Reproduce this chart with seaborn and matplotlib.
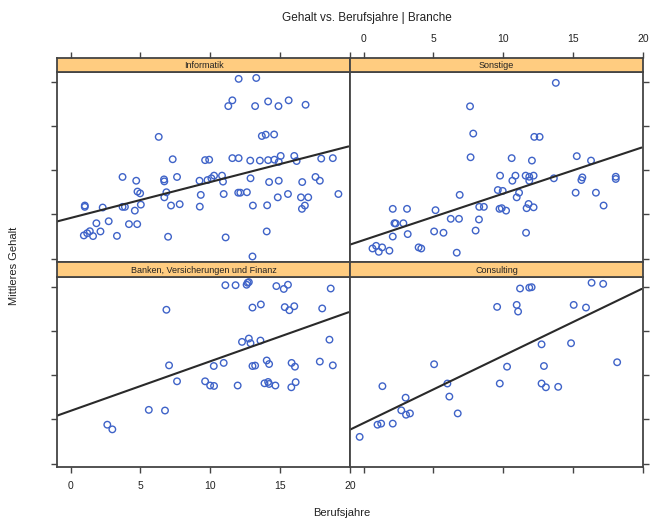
import numpy as np
import matplotlib
matplotlib.use("Agg")
import matplotlib.pyplot as plt
import seaborn as sns

# ---- data (Berufsjahre, Mittleres Gehalt) per Branche ----
inf_x = [12.03, 13.29, 11.58, 11.29, 14.14, 15.61, 13.21, 14.88, 16.82, 6.31, 13.69, 13.97, 14.57,
         7.31, 9.63, 9.92, 11.58, 12.03, 12.86, 13.55, 14.14, 14.59, 15.04, 14.90, 16.01, 16.18, 17.94, 18.77,
         3.72, 4.70, 6.69, 6.71, 7.62, 9.23, 9.80, 10.08, 10.27, 10.84, 10.91, 12.88, 14.21, 14.90, 16.58, 17.53, 17.84,
         4.79, 4.98, 6.86, 6.71, 9.32, 10.96, 12.00, 12.15, 12.62, 14.83, 15.56, 16.49, 17.01, 19.17,
         1.02, 1.02, 2.30, 3.72, 3.89, 5.03, 4.60, 7.19, 7.81, 9.25, 13.05, 14.07, 16.77, 16.56,
         1.85, 2.73, 4.18, 4.77, 0.95, 1.19, 1.38, 1.61, 2.14, 3.32, 6.98, 11.10, 14.04, 13.02]
inf_y = [101.2, 101.6, 91.5, 88.9, 91.0, 91.5, 88.9, 88.9, 89.5, 75.0, 75.4, 76.0, 76.1,
         64.9, 64.5, 64.7, 65.4, 65.4, 64.3, 64.3, 64.5, 64.7, 66.4, 63.7, 66.4, 64.1, 65.2, 65.4,
         56.9, 55.2, 55.8, 54.9, 56.9, 55.2, 55.5, 56.3, 57.5, 57.5, 54.8, 56.3, 54.6, 55.2, 54.6, 56.9, 55.2,
         50.3, 49.5, 50.0, 47.7, 48.8, 49.2, 49.8, 49.8, 50.0, 47.7, 49.2, 47.7, 47.7, 49.2,
         44.0, 43.4, 43.1, 43.4, 43.4, 44.4, 41.7, 44.0, 44.6, 43.5, 44.0, 44.1, 44.0, 42.5,
         36.0, 36.9, 35.6, 35.6, 30.5, 31.5, 32.4, 30.2, 32.3, 30.3, 29.9, 29.6, 32.3, 21.0]

son_x = [13.76, 7.62, 7.85, 12.22, 12.60, 7.66, 10.60, 12.05, 15.26, 16.28,
         9.77, 10.87, 10.65, 11.60, 11.86, 12.17, 11.86, 13.62, 15.66, 15.59, 18.05, 18.05,
         6.88, 9.61, 9.96, 11.13, 10.96, 15.18, 16.63,
         2.09, 3.11, 5.15, 8.28, 8.61, 9.73, 9.89, 10.20, 11.81, 11.67, 12.17, 17.18,
         2.21, 2.30, 2.85, 6.24, 6.83, 8.26, 2.09, 3.16, 5.05, 5.72, 8.02, 11.63,
         0.64, 0.90, 1.09, 1.33, 1.85, 3.94, 4.13, 6.67]
son_y = [99.4, 88.8, 76.5, 75.0, 75.0, 65.8, 65.4, 64.3, 66.3, 64.3,
         57.5, 57.5, 55.2, 57.5, 57.0, 57.5, 55.2, 56.3, 56.7, 55.5, 57.0, 56.0,
         48.8, 51.0, 50.6, 49.8, 47.7, 49.8, 49.8,
         42.5, 42.5, 41.9, 43.4, 43.4, 42.5, 42.8, 41.7, 44.7, 42.8, 43.2, 44.0,
         36.0, 35.9, 36.0, 38.0, 38.0, 37.7, 30.0, 31.1, 32.3, 31.7, 32.7, 31.7,
         24.6, 25.8, 23.1, 25.1, 23.6, 25.1, 24.6, 22.7]

ban_x = [11.08, 11.81, 12.60, 12.67, 12.76, 14.73, 15.26, 15.56, 18.62,
         6.86, 13.02, 13.62, 15.33, 15.66, 16.01, 18.01,
         12.27, 12.76, 12.88, 13.59, 18.53,
         7.05, 10.25, 10.96, 13.02, 13.21, 14.04, 14.21, 15.82, 16.06, 17.84, 18.77,
         7.62, 9.63, 9.99, 10.27, 11.96, 13.88, 14.14, 14.21, 14.66, 15.80, 16.11,
         5.60, 6.76, 2.63, 2.99]
ban_y = [100.6, 100.6, 100.8, 101.7, 102.0, 100.2, 98.9, 100.8, 99.1,
         89.5, 90.5, 91.9, 90.7, 89.3, 91.1, 90.1,
         75.0, 76.5, 74.4, 75.6, 76.0,
         64.4, 64.1, 65.5, 64.1, 64.3, 66.6, 65.0, 65.5, 63.8, 66.1, 64.4,
         57.2, 57.2, 55.3, 55.1, 55.3, 56.3, 56.9, 56.0, 55.3, 54.5, 56.8,
         44.3, 44.0, 37.6, 35.5]

con_x = [16.32, 17.15, 11.20, 11.86, 12.03, 9.56, 10.96, 11.06, 15.04, 15.92, 12.74, 14.85, 18.15,
         5.05, 10.27, 12.91, 1.35, 6.00, 9.75, 12.74, 13.05, 13.93, 3.01, 6.14, 2.70, 3.04, 3.32,
         6.74, 1.00, 1.26, 2.09, -0.28]
con_y = [101.7, 101.2, 99.1, 99.5, 99.7, 90.8, 91.7, 88.7, 91.7, 90.5, 73.9, 74.4, 65.8,
         64.9, 63.8, 64.1, 55.0, 56.2, 56.2, 56.2, 54.5, 54.7, 49.8, 50.3, 44.1, 42.1, 42.7,
         42.7, 37.6, 38.1, 38.1, 32.1]

panel_names = [["Informatik", "Sonstige"], ["Banken, Versicherungen und Finanz", "Consulting"]]
panel_data = {
    "Informatik": (inf_x, inf_y),
    "Sonstige": (son_x, son_y),
    "Banken, Versicherungen und Finanz": (ban_x, ban_y),
    "Consulting": (con_x, con_y),
}
x_ticks = [0, 5, 10, 15, 20]
y_ticks = [20, 40, 60, 80, 100]

title = "Gehalt vs. Berufsjahre | Branche"
x_label = "Berufsjahre"
y_label = "Mittleres Gehalt"

# ---- figure ----
sns.set_style("white")
plt.rcParams['font.family'] = ['Liberation Sans', 'DejaVu Sans']

W, H = 652, 522
fig = plt.figure(figsize=(W / 100, H / 100), dpi=100)

XLIM = (-0.97, 19.9)
YLIM = (18.5, 104.3)
cols = [57, 350]
pw = 293
rows = [(72, 262, 58), (277, 467, 262)]
axc = "#444444"
txtc = "#222222"

for r in range(2):
    ytop, ybot, stop = rows[r]
    for c in range(2):
        x0 = cols[c]
        ax = fig.add_axes([x0 / W, 1 - ybot / H, pw / W, (ybot - ytop) / H])
        sax = fig.add_axes([x0 / W, 1 - ytop / H, pw / W, (ytop - stop) / H])
        name = panel_names[r][c]
        xs, ys = panel_data[name]
        ax.set_xlim(XLIM)
        ax.set_ylim(YLIM)
        sns.scatterplot(x=xs, y=ys, ax=ax, marker='o', s=22, facecolor='none',
                        edgecolor='#3f63c8', linewidth=1.0)
        sns.regplot(x=np.array(xs), y=np.array(ys), ax=ax, scatter=False, ci=None,
                    truncate=False, line_kws=dict(color='#2a2a2a', lw=1.5))
        ax.set_xlim(XLIM)
        ax.set_ylim(YLIM)
        ax.set_xlabel('')
        ax.set_ylabel('')
        ax.set_yticks(y_ticks)
        ax.set_xticks(x_ticks)
        for s in ax.spines.values():
            s.set_color(axc)
            s.set_linewidth(1.3)
        ax.tick_params(length=4, width=1, color=axc, labelsize=7.5,
                       labelcolor=txtc, direction='out')
        ax.tick_params(axis='y', left=(c == 0), right=(c == 1),
                       labelleft=False, labelright=False)
        if r == 1:
            ax.tick_params(axis='x', bottom=True, top=False, labelbottom=(c == 0), pad=6)
        else:
            ax.tick_params(axis='x', bottom=False, top=False, labelbottom=False)

        sax.set_facecolor('#ffcc80')
        sax.set_xlim(XLIM)
        sax.set_yticks([])
        sax.set_xticks(x_ticks)
        for s in sax.spines.values():
            s.set_color(axc)
            s.set_linewidth(1.3)
        if r == 0:
            sax.tick_params(axis='x', bottom=False, labelbottom=False, top=True,
                            labeltop=(c == 1), length=4, width=1, color=axc,
                            labelsize=7.5, labelcolor=txtc, pad=6)
        else:
            sax.tick_params(axis='x', bottom=False, labelbottom=False,
                            top=False, labeltop=False)
        sax.text(0.5, 0.45, name, transform=sax.transAxes, ha='center', va='center',
                 fontsize=6.5, color=txtc)

fig.text(367 / W, 1 - 18 / H, title, ha='center', va='center', fontsize=8.5, color=txtc)
fig.text(342 / W, 1 - 513 / H, x_label, ha='center', va='center', fontsize=8, color=txtc)
fig.text(14 / W, 1 - 266 / H, y_label, ha='center', va='center', rotation=90,
         fontsize=8, color=txtc)
fig.savefig("out.png", dpi=100)
